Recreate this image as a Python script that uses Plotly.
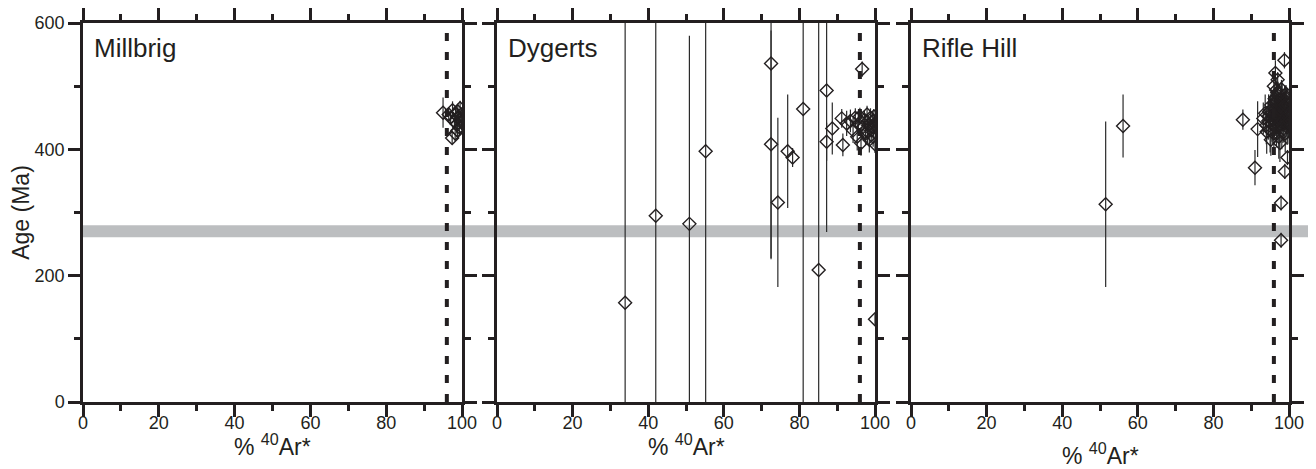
import plotly.graph_objects as go

# ---------------- data ----------------
PANELS = ["Millbrig", "Dygerts", "Rifle Hill"]

millbrig_pct = [95.0, 96.5, 97.0, 97.5, 98.0, 98.3, 98.6, 98.9, 99.1, 99.3, 99.5, 99.7, 99.8, 99.9, 97.4, 98.2, 98.8, 100.0]
millbrig_age = [458, 455, 450, 462, 445, 455, 440, 460, 450, 435, 465, 448, 455, 442, 418, 425, 430, 452]
millbrig_err = [24, 12, 10, 14, 12, 10, 15, 12, 10, 14, 12, 10, 9, 12, 10, 12, 14, 10]

dygerts_pct = [33.9, 42.0, 50.9, 55.2, 72.5, 72.5, 74.3, 76.9, 78.2, 81.0, 85.1, 87.2, 87.2, 88.7, 91.2, 91.5, 92.5, 96.6, 100.0,
               93.5, 94.2, 94.8, 95.3, 95.6, 96.0, 96.3, 96.8, 97.2, 97.5, 97.9, 98.2, 98.5, 98.8, 99.0, 99.3, 99.5, 99.7, 99.9, 100.0, 99.6, 98.0]
dygerts_age = [157, 295, 282, 397, 536, 408, 316, 397, 387, 464, 209, 493, 412, 433, 449, 407, 441, 527, 131,
               445, 430, 450, 420, 440, 452, 410, 435, 447, 425, 455, 438, 415, 450, 430, 445, 420, 452, 440, 408, 435, 428]
dygerts_err = [600, 600, 298, 600, 310, 180, 134, 90, 15, 600, 600, 224, 30, 41, 15, 18, 20, 12, 10,
               18, 20, 15, 22, 18, 14, 20, 16, 15, 18, 14, 16, 20, 15, 18, 14, 16, 12, 15, 14, 16, 18]

rifle_pct = [51.5, 56.1, 87.8, 91.7, 91.0, 93.2, 93.7, 94.1, 96.4, 98.8, 96.6, 98.9, 99.6, 98.9, 97.9, 97.9,
             94.5, 94.8, 95.0, 95.3, 95.5, 95.8, 96.0, 96.2, 96.4, 96.5, 96.7, 96.9, 97.0, 97.2, 97.3, 97.5, 97.6,
             97.8, 98.0, 98.1, 98.3, 98.5, 98.6, 98.8, 99.0, 99.1, 99.3, 99.4, 99.5, 99.6, 99.8, 99.9, 100.0, 100.0,
             96.0, 97.0, 98.0, 99.2, 95.2, 97.6,
             94.0, 94.6, 95.1, 95.7, 96.1, 96.6, 97.1, 97.4, 97.9, 98.4, 98.9, 99.4, 99.7, 100.0, 96.8, 97.7, 98.2, 99.0]
rifle_age = [313, 437, 447, 432, 371, 449, 457, 428, 521, 541, 494, 486, 387, 365, 315, 256,
             445, 460, 430, 470, 440, 455, 425, 480, 450, 465, 435, 490, 445, 470, 420, 455, 440,
             478, 460, 430, 450, 470, 440, 455, 425, 465, 445, 480, 435, 455, 470, 442, 450, 460,
             500, 510, 495, 488, 415, 410,
             438, 452, 462, 448, 472, 458, 485, 440, 468, 445, 475, 458, 438, 445, 475, 463, 482, 470]
rifle_err = [131, 50, 16, 44, 28, 25, 30, 35, 20, 13, 20, 15, 12, 12, 12, 12,
             30, 25, 35, 20, 28, 22, 30, 18, 25, 20, 32, 15, 28, 20, 35, 22, 30,
             18, 25, 30, 22, 20, 28, 22, 30, 18, 25, 15, 28, 20, 18, 25, 20, 18,
             15, 12, 15, 14, 25, 30,
             30, 35, 25, 40, 30, 28, 22, 38, 30, 35, 25, 28, 30, 22, 32, 26, 24, 30]

X_TICKS = [0, 20, 40, 60, 80, 100]
Y_TICKS = [0, 200, 400, 600]
REF_PCT = 96          # dashed reference line, % 40Ar*
BAND = [261, 280]     # grey age band (Ma)
X_TITLE = "% <sup>40</sup>Ar*"
Y_TITLE = "Age (Ma)"

# ---------------- figure ----------------
# the page body has an 8px margin, so the figure is drawn at (8, 8)
OFF = 8
W, H = 1316 - OFF, 469 - OFF
INK = "#231f20"
FONT = "Liberation Sans, Arial, sans-serif"
px_dom = [(83, 462), (497, 875), (911, 1289)]
domains = [((a - OFF) / W, (b - OFF) / W) for a, b in px_dom]
title_shift = [-43, -43, -52]
data = [(millbrig_pct, millbrig_age, millbrig_err),
        (dygerts_pct, dygerts_age, dygerts_err),
        (rifle_pct, rifle_age, rifle_err)]

fig = go.Figure()
layout = dict(width=W, height=H, margin=dict(l=0, r=0, t=23 - OFF, b=67, autoexpand=False),
              paper_bgcolor="white", plot_bgcolor="rgba(0,0,0,0)",
              showlegend=False, font=dict(family=FONT, color=INK, size=18))
shapes, annotations = [], []

for i, (name, (xs, ys, es), dom) in enumerate(zip(PANELS, data, domains), start=1):
    sfx = "" if i == 1 else str(i)
    fig.add_trace(go.Scatter(
        x=xs, y=ys, mode="markers", xaxis="x" + sfx, yaxis="y" + sfx,
        marker=dict(symbol="diamond-open", size=10, color=INK, line=dict(width=1.4, color=INK)),
        error_y=dict(type="data", array=es, visible=True, width=0, thickness=1.2, color="#2a2a2a"),
        cliponaxis=True,
    ))
    layout["xaxis" + sfx] = dict(
        domain=list(dom), anchor="y" + sfx, range=[0, 100], tickvals=X_TICKS, automargin=False,
        showline=True, linewidth=2.5, linecolor=INK, mirror="ticks",
        ticks="outside", ticklen=12, tickwidth=2.5, tickcolor=INK, ticklabelstandoff=-9,
        minor=dict(dtick=10, tick0=0, ticks="outside", ticklen=6, tickwidth=2.5, tickcolor=INK, showgrid=False),
        showgrid=False, zeroline=False, tickfont=dict(size=18),
    )
    layout["yaxis" + sfx] = dict(
        domain=[0, 1], anchor="x" + sfx, range=[0, 600], tickvals=Y_TICKS, automargin=False,
        showline=True, linewidth=2.5, linecolor=INK, mirror="ticks",
        ticks="outside", ticklen=12, tickwidth=2.5, tickcolor=INK,
        minor=dict(dtick=100, tick0=0, ticks="outside", ticklen=6, tickwidth=2.5, tickcolor=INK, showgrid=False),
        showgrid=False, zeroline=False, showticklabels=(i == 1), tickfont=dict(size=18),
        title=dict(text=Y_TITLE if i == 1 else "", font=dict(size=23), standoff=6),
    )
    shapes.append(dict(type="line", xref="x" + sfx, yref="y" + sfx, x0=REF_PCT, x1=REF_PCT, y0=0, y1=600,
                       line=dict(color=INK, width=4, dash="8px,11px"), layer="above"))
    annotations.append(dict(text=name, xref="x" + sfx + " domain", yref="y" + sfx + " domain",
                            x=0.025, y=0.98, xanchor="left", yanchor="top", showarrow=False,
                            font=dict(size=26, color=INK, family=FONT)))
    annotations.append(dict(text=X_TITLE, xref="x" + sfx + " domain", yref="y" + sfx + " domain",
                            x=0.5, y=0, xanchor="center", yanchor="middle", yshift=title_shift[i - 1],
                            showarrow=False, font=dict(size=23, color=INK, family=FONT)))

shapes.append(dict(type="rect", xref="paper", yref="y", x0=domains[0][0], x1=1, y0=BAND[0], y1=BAND[1],
                   fillcolor="#bcbec0", line=dict(width=0), layer="below"))

layout["shapes"] = shapes
layout["annotations"] = annotations
fig.update_layout(**layout)
fig.write_html("out.html")
